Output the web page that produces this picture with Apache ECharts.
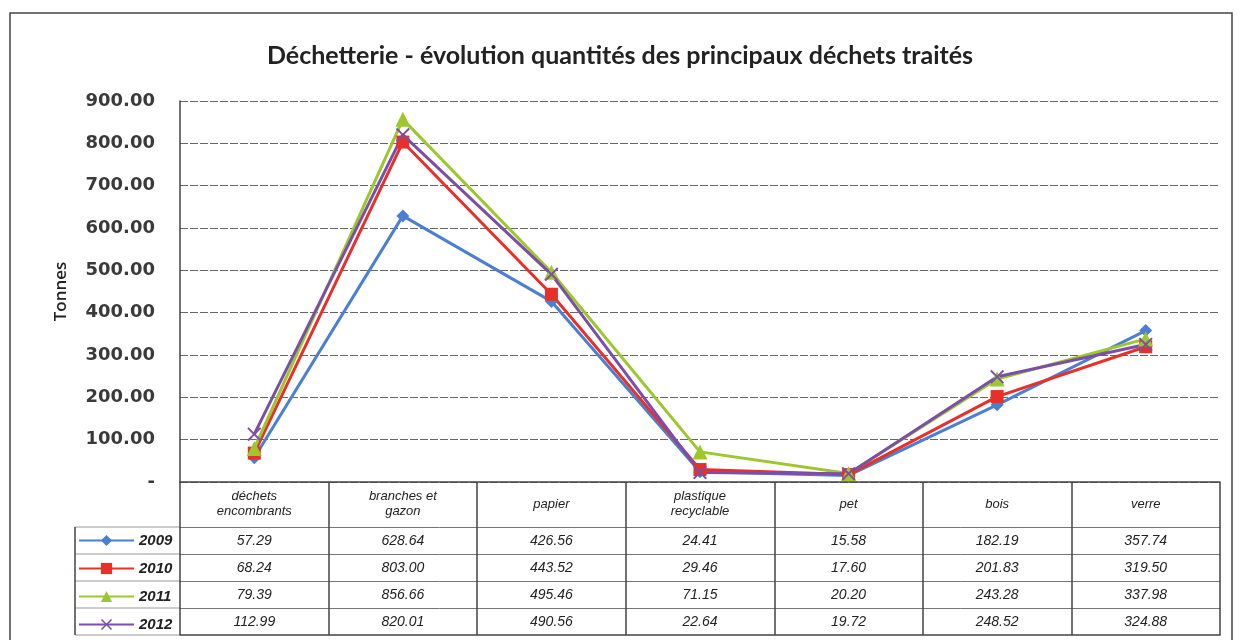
<!DOCTYPE html>
<html lang="fr">
<head>
<meta charset="UTF-8">
<title>Déchetterie - évolution quantités</title>
<script src="https://cdn.jsdelivr.net/npm/echarts@6/dist/echarts.min.js"></script>
<style>
  html, body { margin: 0; padding: 0; background: #fff; }
  #chart { width: 1240px; height: 640px; }
</style>
</head>
<body>
<div id="chart"></div>
<script>
// categories (column headers of the data table)
var categories = ['déchets\nencombrants', 'branches et\ngazon', 'papier', 'plastique\nrecyclable', 'pet', 'bois', 'verre'];
var years = ['2009', '2010', '2011', '2012'];

// tonnes per year
var v2009 = [57.29, 628.64, 426.56, 24.41, 15.58, 182.19, 357.74];
var v2010 = [68.24, 803.00, 443.52, 29.46, 17.60, 201.83, 319.50];
var v2011 = [79.39, 856.66, 495.46, 71.15, 20.20, 243.28, 337.98];
var v2012 = [112.99, 820.01, 490.56, 22.64, 19.72, 248.52, 324.88];
var values = [v2009, v2010, v2011, v2012];

var colors = ['#4a7fd4', '#e8302a', '#9cc82c', '#7b4fa8'];
var symbols = [
  'diamond',
  'rect',
  'triangle',
  'path://M0,1 L1,0 L5,4 L9,0 L10,1 L6,5 L10,9 L9,10 L5,6 L1,10 L0,9 L4,5 Z'
];
var symbolSizes = [13, 13, 15, 14];

var chart = echarts.init(document.getElementById('chart'));

// layout of the table under the plot
var headerH = 45;   // header row height (category names)
var rowH = 27;      // one row per year
var tableBottom = headerH + rowH * years.length;

var xAxes = [{
  type: 'category',
  data: categories,
  position: 'bottom',
  boundaryGap: true,
  axisLine: { show: true, lineStyle: { color: '#444', width: 1.5 } },
  axisTick: { show: true, interval: 0, length: tableBottom, lineStyle: { color: '#444', width: 1.5 } },
  axisLabel: {
    interval: 0, margin: 22, verticalAlign: 'middle',
    fontFamily: 'Liberation Sans', fontStyle: 'italic', fontSize: 13,
    lineHeight: 15, color: '#222'
  }
}];
// one axis per year row: its line is the row top, its labels the values
years.forEach(function (y, i) {
  xAxes.push({
    type: 'category',
    data: values[i].map(function (v) { return v.toFixed(2); }),
    position: 'bottom',
    offset: headerH + rowH * i,
    axisLine: { show: true, lineStyle: { color: '#777', width: 1 } },
    axisTick: { show: false },
    axisLabel: {
      interval: 0, margin: rowH / 2 + 1, verticalAlign: 'middle',
      fontFamily: 'Liberation Sans', fontStyle: 'italic', fontSize: 14, color: '#222'
    }
  });
});
// bottom border of the table
xAxes.push({
  type: 'category',
  data: categories,
  position: 'bottom',
  offset: tableBottom,
  axisLine: { show: true, lineStyle: { color: '#444', width: 1.5 } },
  axisTick: { show: false },
  axisLabel: { show: false }
});

// legend column lines (left of the table)
var legendLines = [];
for (var k = 0; k <= years.length; k++) {
  var yy = 482 + headerH + rowH * k;
  legendLines.push({ type: 'line', shape: { x1: 75, y1: yy, x2: 180, y2: yy }, style: { stroke: '#999', lineWidth: 1 } });
}
legendLines.push({ type: 'line', shape: { x1: 75, y1: 482 + headerH, x2: 75, y2: 482 + tableBottom }, style: { stroke: '#444', lineWidth: 1.5 } });

var option = {
  backgroundColor: '#fff',
  animation: false,
  title: {
    text: 'Déchetterie - évolution quantités des principaux déchets traités',
    left: 'center',
    top: 38,
    textStyle: { fontFamily: 'Lato', fontWeight: 'bold', fontSize: 25, color: '#222' }
  },
  grid: { left: 180, right: 20, top: 101, bottom: 158 },
  legend: {
    orient: 'vertical',
    left: 78,
    top: 482 + headerH + 6,
    padding: 0,
    itemGap: 13,
    itemWidth: 55,
    itemHeight: 14,
    data: years,
    textStyle: { fontFamily: 'Liberation Sans', fontStyle: 'italic', fontWeight: 'bold', fontSize: 15, color: '#222' }
  },
  xAxis: xAxes,
  yAxis: {
    type: 'value',
    min: 0,
    max: 900,
    interval: 100,
    name: 'Tonnes',
    nameLocation: 'middle',
    nameGap: 110,
    nameTextStyle: { fontFamily: 'Open Sans', fontWeight: 600, fontSize: 17, color: '#222' },
    axisLine: { show: true, lineStyle: { color: '#444', width: 1.5 } },
    axisTick: { show: false },
    axisLabel: {
      margin: 25,
      fontFamily: 'DejaVu Sans', fontWeight: 'bold', fontSize: 18, color: '#3a3a3a',
      formatter: function (v) { return v === 0 ? '-' : v.toFixed(2); }
    },
    splitLine: { show: true, lineStyle: { color: '#666', width: 1, type: [8, 2] } }
  },
  graphic: [{
    type: 'rect',
    shape: { x: 10, y: 13, width: 1222, height: 660 },
    style: { fill: 'none', stroke: '#444', lineWidth: 1.5 },
    silent: true
  }].concat(legendLines),
  series: years.map(function (y, i) {
    return {
      name: y,
      type: 'line',
      data: values[i],
      color: colors[i],
      symbol: symbols[i],
      symbolSize: symbolSizes[i],
      showAllSymbol: true,
      lineStyle: { width: 3, color: colors[i] },
      itemStyle: { color: colors[i] }
    };
  })
};

chart.setOption(option);
</script>
</body>
</html>
